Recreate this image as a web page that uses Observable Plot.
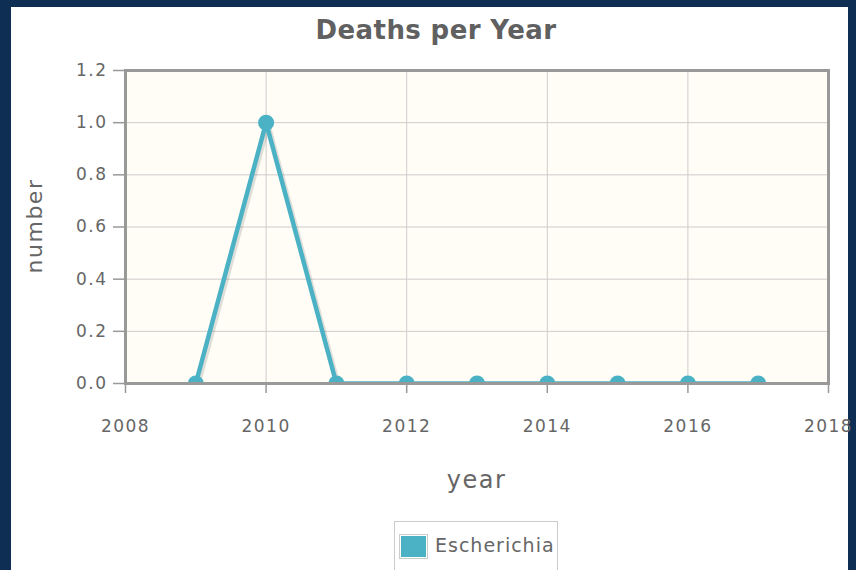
<!DOCTYPE html>
<html>
<head>
<meta charset="utf-8">
<script src="https://cdn.jsdelivr.net/npm/d3@7"></script>
<script src="https://cdn.jsdelivr.net/npm/@observablehq/plot@0.6"></script>
<style>
  html, body { margin: 0; padding: 0; }
  body { width: 856px; height: 570px; background: #0e2f53; position: relative; overflow: hidden; font-family: "DejaVu Sans", sans-serif; }
  #panel { position: absolute; left: 11px; top: 7px; width: 837px; height: 580px; background: #ffffff; }
  #chart { position: absolute; left: 0; top: 0; }
  .lbl { position: absolute; color: #666666; white-space: nowrap; }
  #title { left: 0; width: 872px; top: 15px; text-align: center; font-weight: bold; font-size: 26px; letter-spacing: 0.4px; color: #606060; }
  #xlabel { left: 0; width: 953px; top: 466px; text-align: center; font-size: 24px; letter-spacing: 1.5px; }
  #ylabel { left: 34px; top: 226px; font-size: 22px; letter-spacing: 1.5px; transform: translate(-50%, -50%) rotate(-90deg); }
  #legend { position: absolute; left: 394px; top: 521px; width: 164px; height: 60px; border: 1px solid #cccccc; box-sizing: border-box; background: #fff; }
  #legend .sw { position: absolute; left: 6px; top: 14px; width: 25px; height: 21px; background: #4bb2c5; outline: 1px solid #cccccc; outline-offset: 1px; }
  #legend .tx { position: absolute; left: 40px; top: 12px; font-size: 19px; letter-spacing: 1px; color: #666666; }
</style>
</head>
<body>
<div id="panel"></div>
<div id="chart"></div>
<div class="lbl" id="title">Deaths per Year</div>
<div class="lbl" id="xlabel">year</div>
<div class="lbl" id="ylabel">number</div>
<div id="legend"><div class="sw"></div><div class="tx">Escherichia</div></div>
<script>
const years = [2009, 2010, 2011, 2012, 2013, 2014, 2015, 2016, 2017];
const deaths = [0, 1, 0, 0, 0, 0, 0, 0, 0];
const xTicks = [2008, 2010, 2012, 2014, 2016, 2018];
const yTicks = [0, 0.2, 0.4, 0.6, 0.8, 1.0, 1.2];
const seriesName = "Escherichia";

const data = years.map((y, i) => ({year: y, value: deaths[i], series: seriesName}));
const color = "#4bb2c5";

const plot = Plot.plot({
  width: 856,
  height: 570,
  marginLeft: 125,
  marginRight: 28,
  marginTop: 70,
  marginBottom: 187,
  style: {background: "transparent", color: "#666666", fontFamily: "'DejaVu Sans', sans-serif", fontSize: "17px", letterSpacing: "1.5px"},
  x: {domain: [2008, 2018]},
  y: {domain: [0, 1.2]},
  marks: [
    Plot.frame({fill: "#fffdf6"}),
    Plot.gridX(xTicks, {stroke: "#cccccc", strokeOpacity: 1, strokeWidth: 1}),
    Plot.gridY(yTicks, {stroke: "#cccccc", strokeOpacity: 1, strokeWidth: 1}),
    Plot.axisX(xTicks, {tickSize: 10, tickPadding: 26, tickFormat: d3.format("d"), stroke: "#999999", strokeWidth: 1.5, fontSize: 17, fill: "#666666", label: null}),
    Plot.axisY(yTicks, {tickSize: 12, tickPadding: 6, tickFormat: d3.format(".1f"), stroke: "#999999", strokeWidth: 1.5, fontSize: 17, fill: "#666666", label: null}),
    Plot.line(data, {x: "year", y: "value", stroke: "rgba(0,0,0,0.12)", strokeWidth: 5, dx: 2, dy: 2, clip: true}),
    Plot.line(data, {x: "year", y: "value", stroke: color, strokeWidth: 4.5, clip: true}),
    Plot.dot(data, {x: "year", y: "value", r: 8, fill: color, stroke: "none", clip: true}),
    Plot.frame({stroke: "#999999", strokeWidth: 3})
  ]
});
document.getElementById("chart").appendChild(plot);
</script>
</body>
</html>
